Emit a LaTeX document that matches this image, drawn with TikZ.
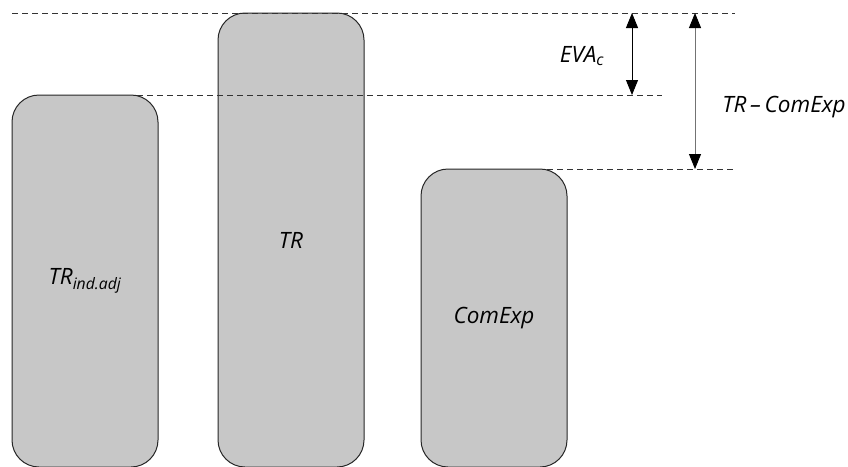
\documentclass[tikz,border=0pt]{standalone}
\usepackage{fontspec}
\setmainfont{Open Sans}
\usepackage{tikz}
\usetikzlibrary{arrows.meta}

\begin{document}
\begin{tikzpicture}[x=1pt,y=-1pt]
\tikzstyle{every node}+=[font=\fontsize{22.5}{27}\selectfont\itshape]
\tikzstyle{bar}=[draw=black!85, line width=1pt, fill=black!22, rounded corners=27pt, inner sep=0pt, minimum width=146pt]
\tikzstyle{level}=[draw=black!80, line width=0.8pt, dash pattern=on 6pt off 4pt]
\tikzstyle{gap}=[{Triangle[width=12pt,length=15pt,color=black]}-{Triangle[width=12pt,length=15pt,color=black]}, line width=0.9pt]
\useasboundingbox (0,0) rectangle (848,466);
% bars
\node [bar, minimum height=372pt] (adj) at (85,281) {TR\textsubscript{ind.adj}};
\node [bar, minimum height=454pt] (tr) at (291,240) {TR};
\node [bar, minimum height=298pt] (com) at (494,318) {ComExp};
% levels
\coordinate (t0) at (12,13);
\coordinate (t1) at (735,13);
\coordinate (m0) at (137,95);
\coordinate (m1) at (662,95);
\coordinate (b0) at (547,169);
\coordinate (b1) at (735,169);
\draw [level] (t0) -- (t1);
\draw [level] (m0) -- (m1);
\draw [level] (b0) -- (b1);
% differences
\coordinate (e0) at (632,13);
\coordinate (e1) at (632,95);
\coordinate (d0) at (695,13);
\coordinate (d1) at (695,169);
\draw [gap] (e0) -- (e1);
\draw [gap, black!55] (d0) -- (d1);
\node (eva) at (582,56) {EVA\textsubscript{c}};
\node (diff) at (784,107) {TR\,–\,ComExp};
\end{tikzpicture}
\end{document}
